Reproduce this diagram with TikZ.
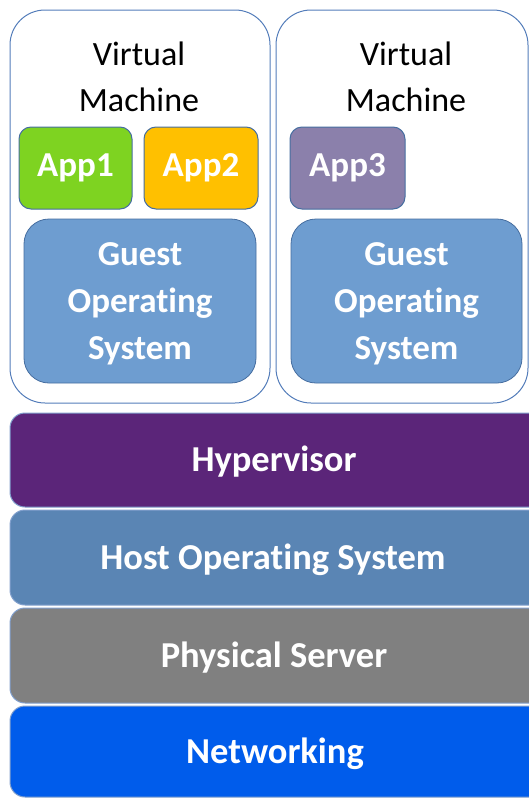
\documentclass[tikz,border=0pt]{standalone}
\usepackage{fontspec}
\setmainfont{Carlito}[Ligatures=NoCommon]
\definecolor{vmborder}{RGB}{84,125,186}
\definecolor{boxborder}{RGB}{70,110,160}
\definecolor{layerborder}{RGB}{130,160,205}
\definecolor{appgreen}{RGB}{126,211,33}
\definecolor{apporange}{RGB}{255,192,0}
\definecolor{apppurple}{RGB}{139,128,171}
\definecolor{guestblue}{RGB}{110,157,208}
\definecolor{hyperpurple}{RGB}{91,37,121}
\definecolor{hostblue}{RGB}{90,133,180}
\definecolor{servergrey}{RGB}{128,128,128}
\definecolor{netblue}{RGB}{0,92,235}
\tikzset{
  vmbox/.style={draw=vmborder, line width=1pt, fill=white, rounded corners=35pt, inner sep=0pt},
  appbox/.style={draw=boxborder, line width=1pt, rounded corners=12pt, inner sep=0pt,
    minimum height=82pt, font=\fontsize{35}{40}\selectfont\bfseries, text=white},
  guestbox/.style={draw=boxborder, line width=0.8pt, fill=guestblue, rounded corners=25pt, inner sep=0pt,
    minimum height=164pt, align=center, font=\fontsize{35}{47}\selectfont\bfseries, text=white},
  vmtitle/.style={align=center, font=\fontsize{34}{46}\selectfont, text=black, inner sep=0pt},
  layer/.style={draw=layerborder, line width=1pt, rounded corners=15pt, inner sep=0pt, minimum width=560pt},
  layertext/.style={font=\fontsize{36.5}{40}\selectfont\bfseries, text=white, inner sep=0pt}
}
\begin{document}
\begin{tikzpicture}[x=1pt,y=-1pt]
\useasboundingbox (0,0) rectangle (529,798);
\begin{scope}
\clip (0,0) rectangle (529,798);
% virtual machines
\node[vmbox, minimum width=260pt, minimum height=393pt] (vm1) at (140,206.5) {};
\node[vmbox, minimum width=252pt, minimum height=393pt] (vm2) at (402,206.5) {};
\node[vmtitle] (t1) at (139,77) {Virtual\\Machine};
\node[vmtitle] (t2) at (406,77) {Virtual\\Machine};
% apps
\node[appbox, fill=appgreen, minimum width=113pt] (app1) at (75.5,168) {App1};
\node[appbox, fill=apporange, minimum width=114pt] (app2) at (201,168) {App2};
\node[appbox, fill=apporange!0!apppurple, minimum width=115pt] (app3) at (347.5,168) {App3};
% guest OS
\node[guestbox, minimum width=232pt] (g1) at (140,301) {};
\node[guestbox, minimum width=231pt] (g2) at (406.5,301) {};
\node[guestbox, draw=none, fill=none, minimum width=0pt, minimum height=0pt] (g1text) at (140,304) {Guest\\Operating\\System};
\node[guestbox, draw=none, fill=none, minimum width=0pt, minimum height=0pt] (g2text) at (406.5,304) {Guest\\Operating\\System};
% layers
\node[layer, fill=hyperpurple, minimum height=94pt] (hyp) at (290,460) {};
\node[layer, fill=hostblue, minimum height=95pt] (host) at (290,557.5) {};
\node[layer, fill=servergrey, minimum height=95pt] (phys) at (290,655.5) {};
\node[layer, fill=netblue, minimum height=91pt] (net) at (290,751.5) {};
\node[layertext] (hyptext) at (274,462) {Hypervisor};
\node[layertext] (hosttext) at (273,559.5) {Host Operating System};
\node[layertext] (phystext) at (274,657.5) {Physical Server};
\node[layertext] (nettext) at (275,753.5) {Networking};
\end{scope}
\end{tikzpicture}
\end{document}
